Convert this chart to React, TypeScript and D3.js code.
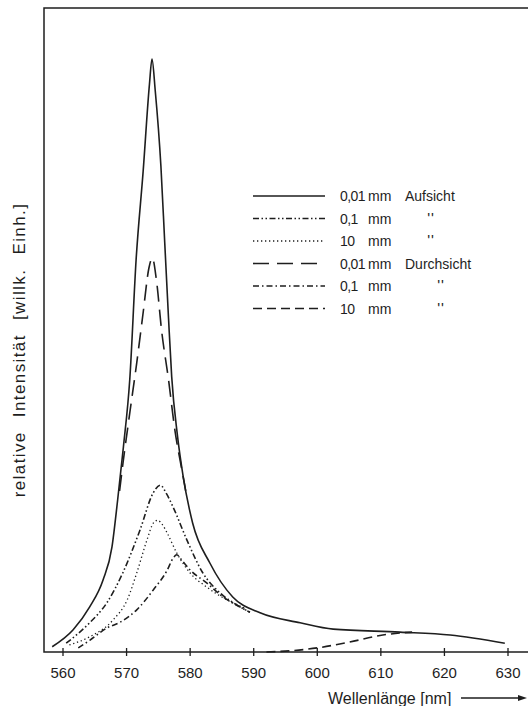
import React from "react";
import * as d3 from "d3";

// ---- data (wavelength nm, relative intensity) ----
const aufsicht001: [number, number][] = [
  [558.3, 0.9], [561.6, 3.8], [564.2, 7.7], [566.3, 12.3], [567.7, 17.9], [568.6, 26],
  [569.5, 35], [570.5, 46.5], [571.5, 67], [572.6, 82], [573.6, 97], [574.0, 101.3],
  [574.5, 96], [575.4, 83], [576.0, 70], [576.6, 57], [577.1, 47], [578.0, 37],
  [578.9, 30], [580.4, 22], [583.1, 15.2], [586.7, 9.4], [591, 6.7], [597.3, 5.0],
  [602.5, 3.9], [613, 3.4], [620.9, 2.9], [629.5, 1.5],
];
const aufsicht01: [number, number][] = [
  [560.5, 1.5], [564.2, 5.0], [566.9, 8.4], [569.4, 13.5], [572.1, 20.8], [574.2, 27.2],
  [575.3, 28.5], [576.3, 27.0], [577.3, 24.8], [579.5, 19.1], [582.0, 13.5], [584.7, 10.1],
  [587.4, 8.0], [589.4, 6.8],
];
const aufsicht10: [number, number][] = [
  [561.0, 1.2], [564.2, 2.6], [567.9, 5.5], [570.1, 8.9], [571.6, 13.5], [573.2, 19.1],
  [574.2, 22.0], [574.9, 22.5], [575.6, 21.8], [576.4, 20.3], [577.9, 16.9], [580.0, 13.5],
  [582.6, 11.1], [585.8, 8.9], [588.6, 7.5],
];
const durchsicht001: [number, number][] = [
  [568.9, 27.5], [569.5, 32.8], [570.5, 40.8], [571.6, 49.4], [572.6, 57.9], [573.5, 65.5],
  [574.05, 67.3], [574.7, 63.5], [575.5, 55], [576.6, 46.5], [577.6, 37.9], [578.7, 31.1],
  [579.3, 27.5],
];
const durchsicht01: [number, number][] = [
  [562.4, 0.7], [564.2, 2.0], [566.9, 4.1], [569.0, 5.1], [571.6, 7.2], [574.2, 10.6],
  [576.4, 14.0], [577.3, 16.0], [577.9, 16.6], [578.6, 15.8], [580.0, 14.0], [582.6, 11.8],
  [585.2, 9.4], [587.8, 7.7], [589.4, 6.8],
];
const durchsicht10: [number, number][] = [
  [592.0, 0], [595.7, 0.2], [600.0, 0.7], [605.1, 1.7], [610.3, 2.9], [614.9, 3.4],
];

const xTicks = [560, 570, 580, 590, 600, 610, 620, 630];
const legendThickness = ["0,01", "0,1", "10", "0,01", "0,1", "10"];
const legendMode = ["Aufsicht", "''", "''", "Durchsicht", "''", "''"];

const seriesData = [aufsicht001, aufsicht01, aufsicht10, durchsicht001, durchsicht01, durchsicht10];
const dashes = ["none", "6,2.5,1.5,2.5,1.5,2.5", "1.3,2.7", "16,8", "6,3,1.5,3", "9,5"];

const W = 528;
const H = 706;
const FONT = "'Liberation Sans', Arial, sans-serif";
const INK = "#1e1e1e";

export default function App() {
  const x = d3.scaleLinear().domain([560, 630]).range([63, 508]);
  const y = d3.scaleLinear().domain([0, 110]).range([652, 8]);
  const line = d3
    .line<[number, number]>()
    .x((d) => x(d[0]))
    .y((d) => y(d[1]))
    .curve(d3.curveMonotoneX);

  const legX0 = 253;
  const legX1 = 325;
  const legY0 = 196;
  const legDy = 22.5;

  return (
    <svg
      width={W}
      height={H}
      style={{ position: "absolute", left: 0, top: 0, display: "block", background: "#fff" }}
      fontFamily={FONT}
    >
      {/* frame */}
      <path d={`M${W},8 H44 V652 H${W}`} fill="none" stroke={INK} strokeWidth={1.5} />
      {/* ticks */}
      {xTicks.map((t) => (
        <g key={t}>
          <line x1={x(t)} x2={x(t)} y1={648} y2={656} stroke={INK} strokeWidth={1.3} />
          <text x={x(t)} y={678} textAnchor="middle" fontSize={15} fill={INK}>
            {t}
          </text>
        </g>
      ))}
      {/* curves */}
      {seriesData.map((s, i) => (
        <path
          key={i}
          d={line(s) || ""}
          fill="none"
          stroke={INK}
          strokeWidth={i === 2 ? 1.3 : 1.6}
          strokeDasharray={dashes[i]}
        />
      ))}
      {/* legend */}
      {legendThickness.map((th, i) => {
        const cy = legY0 + i * legDy;
        const isDitto = legendMode[i] === "''";
        const dittoX = i < 3 ? 431 : 441;
        return (
          <g key={i}>
            <line
              x1={legX0}
              x2={legX1}
              y1={cy}
              y2={cy}
              stroke={INK}
              strokeWidth={i === 2 ? 1.3 : 1.6}
              strokeDasharray={dashes[i]}
            />
            <text x={340} y={cy + 5} fontSize={14} fill={INK} letterSpacing={-0.6}>
              {th}
            </text>
            <text x={368} y={cy + 5} fontSize={14} fill={INK}>
              mm
            </text>
            {isDitto ? (
              <text x={dittoX} y={cy + 4} fontSize={15} fill="#1e1e1e" textAnchor="middle" letterSpacing={1}>
                ''
              </text>
            ) : (
              <text x={405} y={cy + 5} fontSize={14} fill={INK}>
                {legendMode[i]}
              </text>
            )}
          </g>
        );
      })}
      {/* y label */}
      <text
        transform="translate(25,350) rotate(-90)"
        textAnchor="middle"
        fontSize={17}
        fill={INK}
        letterSpacing={1.4}
        wordSpacing={8}
      >
        relative Intensität [willk. Einh.]
      </text>
      {/* x label with arrow */}
      <text x={328} y={704} fontSize={16} fill={INK}>
        Wellenlänge [nm]
      </text>
      <line x1={461} x2={520} y1={698} y2={698} stroke={INK} strokeWidth={1.4} />
      <path d="M527,698 L518,695 L518,701 Z" fill={INK} />
    </svg>
  );
}
